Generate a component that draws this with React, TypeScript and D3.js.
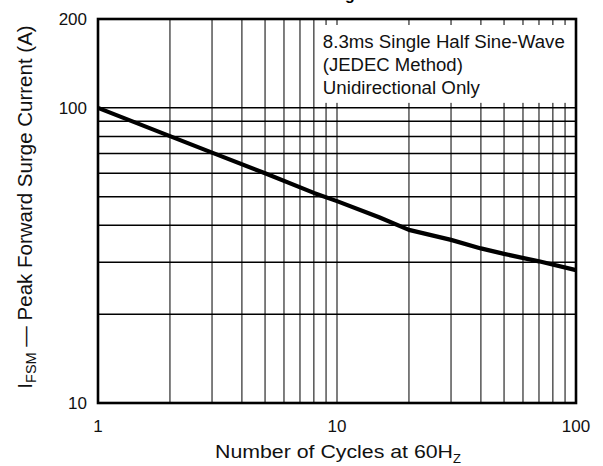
import * as d3 from "d3";

// cycles at 60Hz vs peak forward surge current (A)
const cycles = [1, 2, 3, 5, 8, 10, 15, 20, 30, 40, 50, 70, 100];
const surge = [100, 80.2, 70.5, 60, 51.5, 48.3, 42.6, 38.6, 35.7, 33.4, 32.0, 30.2, 28.2];

const xTicks = [1, 10, 100];
const yTicks = [10, 100, 200];
const xGrid = [2, 3, 4, 5, 6, 7, 8, 9, 10, 20, 30, 40, 50, 60, 70, 80, 90];
const yGrid = [20, 30, 40, 50, 60, 70, 80, 90, 100];
const noteLines = ["8.3ms Single Half Sine-Wave", "(JEDEC Method)", "Unidirectional Only"];
const noteWidths = [242, 140, 157];

const W = 603;
const H = 466;
const m = { top: 19, right: 27, bottom: 63, left: 98 };

const App = () => {
  const x = d3.scaleLog().domain([1, 100]).range([m.left, W - m.right]);
  const y = d3.scaleLog().domain([10, 200]).range([H - m.bottom, m.top]);

  const line = d3
    .line<number>()
    .x((_, i) => x(cycles[i]))
    .y((d) => y(d));

  const font = "Arial, 'Liberation Sans', Helvetica, sans-serif";
  const boxX = x(8) + 2;
  const boxY = m.top + 6;

  return (
    <svg
      width={W}
      height={H}
      style={{ position: "absolute", left: 0, top: 0, background: "#fff" }}
      fontFamily={font}
    >
      <text x={209} y={0} fontSize={16} fontWeight="bold" fill="#000">
        Peak Forward Surge Current
      </text>

      {/* grid */}
      {xGrid.map((g) => (
        <line key={"vx" + g} x1={x(g)} x2={x(g)} y1={m.top} y2={H - m.bottom} stroke="#3a3a3a" strokeWidth={1.3} />
      ))}
      {yGrid.map((g) => (
        <line key={"hy" + g} x1={m.left} x2={W - m.right} y1={y(g)} y2={y(g)} stroke="#000" strokeWidth={1.5} />
      ))}

      {/* note box */}
      <rect x={boxX} y={boxY} width={W - m.right - boxX - 1} height={y(100) - 5 - boxY} fill="#fff" />
      {noteLines.map((t, i) => (
        <text
          key={t}
          x={boxX + 7}
          y={48 + i * 23}
          fontSize={17.5}
          fill="#111"
          textLength={noteWidths[i]}
          lengthAdjust="spacingAndGlyphs"
        >
          {t}
        </text>
      ))}

      <path d={line(surge) ?? ""} fill="none" stroke="#000" strokeWidth={4.2} strokeLinejoin="round" />

      <rect
        x={m.left}
        y={m.top}
        width={W - m.left - m.right}
        height={H - m.top - m.bottom}
        fill="none"
        stroke="#000"
        strokeWidth={2.6}
      />

      {xTicks.map((t) => (
        <text key={"xt" + t} x={x(t)} y={432} fontSize={17} textAnchor="middle" fill="#111">
          {t}
        </text>
      ))}
      {yTicks.map((t) => (
        <text key={"yt" + t} x={87} y={y(t) + 6} fontSize={17} textAnchor="end" fill="#111">
          {t}
        </text>
      ))}

      <text x={215} y={458} fontSize={17.5} fill="#111">
        <tspan textLength={238} lengthAdjust="spacingAndGlyphs">
          Number of Cycles at 60H
        </tspan>
        <tspan fontSize={13} dy={5}>
          Z
        </tspan>
      </text>

      <text transform={`translate(32, 207) rotate(-90)`} fontSize={20.5} textAnchor="middle" fill="#111">
        I
        <tspan fontSize={14.5} dy={4}>
          FSM
        </tspan>
        <tspan dy={-4}> — Peak Forward Surge Current (A)</tspan>
      </text>
    </svg>
  );
};

export default App;
